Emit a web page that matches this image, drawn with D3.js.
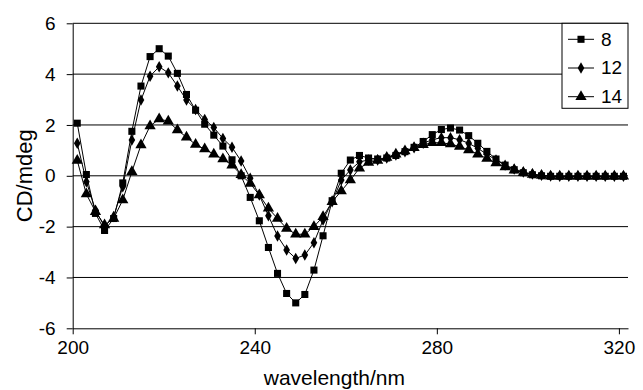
<!DOCTYPE html>
<html>
<head>
<meta charset="utf-8">
<script src="https://cdn.jsdelivr.net/npm/d3@7"></script>
<style>
  body { margin: 0; background: #fff; }
  svg { display: block; font-family: Arial, "Liberation Sans", sans-serif; }
</style>
</head>
<body>
<div id="chart"></div>
<script>
// wavelengths (nm), one point every 2 nm
const wavelengths = [201, 203, 205, 207, 209, 211, 213, 215, 217, 219,
  221, 223, 225, 227, 229, 231, 233, 235, 237, 239,
  241, 243, 245, 247, 249, 251, 253, 255, 257, 259,
  261, 263, 265, 267, 269, 271, 273, 275, 277, 279,
  281, 283, 285, 287, 289, 291, 293, 295, 297, 299,
  301, 303, 305, 307, 309, 311, 313, 315, 317, 319, 321];

// CD values (mdeg) per series
const cd8 = [2.07, 0.05, -1.48, -2.15, -1.68, -0.28, 1.75, 3.53, 4.69, 5.0,
  4.71, 4.03, 3.2, 2.58, 2.03, 1.6, 1.17, 0.63, 0.0, -0.85,
  -1.77, -2.82, -3.84, -4.63, -5.0, -4.67, -3.71, -2.36, -0.98, 0.1,
  0.62, 0.8, 0.7, 0.66, 0.7, 0.8, 0.95, 1.12, 1.35, 1.62,
  1.82, 1.88, 1.8, 1.58, 1.28, 0.96, 0.66, 0.42, 0.24, 0.12,
  0.04, 0.0, -0.02, -0.02, -0.02, -0.02, -0.02, -0.02, -0.02, -0.02, -0.02];

const cd12 = [1.28, -0.23, -1.35, -2.0, -1.6, -0.43, 1.41, 2.98, 3.92, 4.29,
  4.05, 3.53, 2.98, 2.61, 2.22, 1.9, 1.47, 1.12, 0.58, -0.1,
  -0.76, -1.57, -2.37, -2.92, -3.25, -3.12, -2.63, -1.74, -1.02, -0.17,
  0.23, 0.55, 0.62, 0.62, 0.7, 0.82, 0.95, 1.1, 1.28, 1.42,
  1.5, 1.5, 1.42, 1.28, 1.08, 0.85, 0.62, 0.42, 0.27, 0.15,
  0.07, 0.02, -0.01, -0.02, -0.02, -0.02, -0.02, -0.02, -0.02, -0.02, -0.02];

const cd14 = [0.6, -0.72, -1.41, -1.94, -1.68, -0.95, 0.16, 1.21, 1.96, 2.23,
  2.15, 1.8, 1.52, 1.23, 1.05, 0.85, 0.66, 0.42, 0.04, -0.3,
  -0.76, -1.28, -1.68, -2.07, -2.3, -2.3, -2.0, -1.61, -1.02, -0.6,
  -0.17, 0.3, 0.52, 0.6, 0.72, 0.85, 0.98, 1.1, 1.22, 1.3,
  1.3, 1.25, 1.15, 1.02, 0.85, 0.68, 0.5, 0.35, 0.22, 0.12,
  0.05, 0.01, -0.02, -0.02, -0.02, -0.02, -0.02, -0.02, -0.02, -0.02, -0.02];

const seriesNames = ['8', '12', '14'];
const xTicks = [200, 240, 280, 320];
const yTicks = [-6, -4, -2, 0, 2, 4, 6];

const width = 643;
const height = 390;
const margin = { top: 23.3, right: 15, bottom: 61.7, left: 72.7 };

const svg = d3.select('#chart')
  .append('svg')
  .attr('width', width)
  .attr('height', height);

const x = d3.scaleLinear()
  .domain([200, 322])
  .range([margin.left, width - margin.right]);

const y = d3.scaleLinear()
  .domain([-6, 6])
  .range([height - margin.bottom, margin.top]);

// gridlines
svg.append('g')
  .selectAll('line')
  .data(yTicks.filter(d => d > -6))
  .join('line')
  .attr('x1', x.range()[0])
  .attr('x2', x.range()[1])
  .attr('y1', d => y(d))
  .attr('y2', d => y(d))
  .attr('stroke', '#000')
  .attr('stroke-width', 1);

// axes (plain hyphen for minus, like the original)
const xAxis = svg.append('g')
  .attr('transform', `translate(0,${y(-6)})`)
  .call(d3.axisBottom(x).tickValues(xTicks).tickFormat(d => String(d))
    .tickSize(6).tickPadding(6).tickSizeOuter(0));

const yAxis = svg.append('g')
  .attr('transform', `translate(${x(200)},0)`)
  .call(d3.axisLeft(y).tickValues(yTicks).tickFormat(d => String(d))
    .tickSize(6).tickPadding(11).tickSizeOuter(0));

[xAxis, yAxis].forEach(a => {
  a.select('.domain').attr('stroke', '#000');
  a.selectAll('.tick line').attr('stroke', '#000');
  a.selectAll('.tick text')
    .attr('fill', '#000')
    .style('font-size', '19px')
    .style('font-family', 'Arial, "Liberation Sans", sans-serif');
});

// axis titles
svg.append('text')
  .attr('x', (x.range()[0] + x.range()[1]) / 2 - 16)
  .attr('y', 385)
  .attr('text-anchor', 'middle')
  .style('font-size', '21px')
  .text('wavelength/nm');

svg.append('text')
  .attr('transform', `translate(32,${y(0)}) rotate(-90)`)
  .attr('text-anchor', 'middle')
  .style('font-size', '22px')
  .text('CD/mdeg');

// series
const allSeries = [cd8, cd12, cd14];
const symbols = [
  d3.symbol().type(d3.symbolSquare).size(50),
  d3.symbol().type(d3.symbolDiamond).size(38),
  d3.symbol().type(d3.symbolTriangle).size(55)
];

const line = d3.line()
  .x(d => x(d[0]))
  .y(d => y(d[1]));

allSeries.forEach((vals, i) => {
  const pts = wavelengths.map((w, j) => [w, vals[j]]);
  const g = svg.append('g');
  g.append('path')
    .datum(pts)
    .attr('fill', 'none')
    .attr('stroke', '#000')
    .attr('stroke-width', 1)
    .attr('d', line);
  g.selectAll('path.pt')
    .data(pts)
    .join('path')
    .attr('class', 'pt')
    .attr('transform', d => `translate(${x(d[0])},${y(d[1])})`)
    .attr('d', symbols[i])
    .attr('fill', '#000');
});

// legend
const lg = svg.append('g').attr('transform', 'translate(562,23.3)');
lg.append('rect')
  .attr('width', 66)
  .attr('height', 85)
  .attr('fill', '#fff')
  .attr('stroke', '#000');

seriesNames.forEach((name, i) => {
  const cy = 16 + i * 28.7;
  lg.append('line')
    .attr('x1', 6).attr('x2', 32)
    .attr('y1', cy).attr('y2', cy)
    .attr('stroke', '#000');
  lg.append('path')
    .attr('transform', `translate(19,${cy})`)
    .attr('d', symbols[i])
    .attr('fill', '#000');
  lg.append('text')
    .attr('x', 39)
    .attr('y', cy + 6.5)
    .style('font-size', '19px')
    .text(name);
});
</script>
</body>
</html>
